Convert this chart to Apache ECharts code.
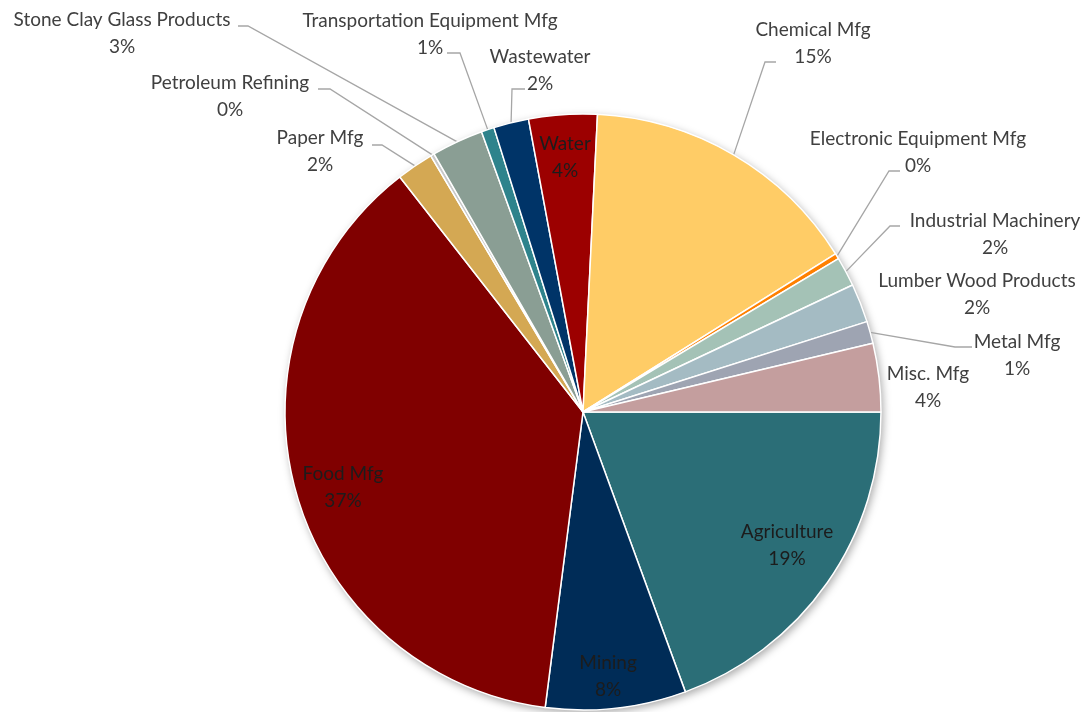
<!DOCTYPE html>
<html>
<head>
<meta charset="utf-8">
<script src="https://cdn.jsdelivr.net/npm/echarts@6/dist/echarts.min.js"></script>
<style>
  html, body { margin: 0; padding: 0; background: #fff; }
  #main { width: 1089px; height: 712px; }
</style>
</head>
<body>
<div id="main"></div>
<script>
// slices, clockwise from 3 o'clock
var categories = ['Agriculture', 'Mining', 'Food Mfg', 'Paper Mfg', 'Petroleum Refining',
    'Stone Clay Glass Products', 'Transportation Equipment Mfg', 'Wastewater', 'Water',
    'Chemical Mfg', 'Electronic Equipment Mfg', 'Industrial Machinery', 'Lumber Wood Products',
    'Metal Mfg', 'Misc. Mfg'];
var shares = [19.4, 7.6, 37.4, 2.0, 0.2, 2.8, 0.7, 1.9, 3.7, 15.3, 0.3, 1.6, 2.1, 1.2, 3.7];

var colors = ['#2B6E77', '#002C57', '#800000', '#D4A853', '#C8C8C8', '#8A9E94', '#2E838C',
    '#003468', '#9C0000', '#FFCC66', '#FF8000', '#A4C2B6', '#A4BBC3', '#9EA4B2', '#C49E9E'];

// label placement (center of text block), leader end & bend x
var labelSpots = [
    { c: [787, 545], inside: true },
    { c: [608, 676], inside: true },
    { c: [343, 487], inside: true },
    { c: [320, 151], end: [372, 145], bend: 382 },
    { c: [230, 96], end: [318, 89], bend: 330 },
    { c: [122, 33], end: [238, 26], bend: 248 },
    { c: [430, 34], end: [447, 53], bend: 460 },
    { c: [540, 70], end: [525, 89], bend: 512 },
    { c: [565, 157], inside: true },
    { c: [813, 43], end: [776, 62], bend: 765 },
    { c: [918, 152], end: [900, 171], bend: 889 },
    { c: [995, 234], end: [900, 226], bend: 890 },
    { c: [977, 294], noLine: true },
    { c: [1017, 355], end: [972, 347], bend: 955 },
    { c: [928, 387], noLine: true }
];

var pieData = [];
for (var i = 0; i < categories.length; i++) {
    var spot = labelSpots[i];
    var item = {
        name: categories[i],
        value: shares[i],
        itemStyle: { color: colors[i] }
    };
    if (spot.inside) {
        item.label = { position: 'inside', color: '#1c1c1c' };
        item.labelLine = { show: false };
    } else if (spot.noLine) {
        item.labelLine = { show: false };
    }
    pieData.push(item);
}

var myChart = echarts.init(document.getElementById('main'));

var option = {
    backgroundColor: '#ffffff',
    animation: false,
    series: [
        {
            // soft shadow behind the pie
            type: 'pie',
            silent: true,
            center: [583, 412],
            radius: 298,
            label: { show: false },
            labelLine: { show: false },
            itemStyle: {
                color: '#ffffff',
                shadowBlur: 8,
                shadowOffsetX: 2,
                shadowOffsetY: 3,
                shadowColor: 'rgba(0,0,0,0.35)'
            },
            data: [1],
            z: 1
        },
        {
            type: 'pie',
            center: [583, 412],
            radius: 298,
            startAngle: 0,
            clockwise: true,
            avoidLabelOverlap: false,
            itemStyle: {
                borderColor: '#ffffff',
                borderWidth: 1.5
            },
            label: {
                show: true,
                position: 'outside',
                fontFamily: 'Lato',
                fontSize: 19,
                lineHeight: 27,
                color: '#404040',
                align: 'center',
                formatter: function (p) {
                    return p.name + '\n' + Math.round(p.percent) + '%';
                }
            },
            labelLine: {
                show: true,
                length: 20,
                length2: 10,
                smooth: false,
                lineStyle: { color: '#A6A6A6', width: 1.3 }
            },
            labelLayout: function (params) {
                var spot = labelSpots[params.dataIndex];
                var res = {
                    x: spot.c[0],
                    y: spot.c[1],
                    align: 'center',
                    verticalAlign: 'middle'
                };
                if (spot.end && params.labelLinePoints) {
                    var start = params.labelLinePoints[0];
                    res.labelLinePoints = [start, [spot.bend, spot.end[1]], spot.end];
                }
                return res;
            },
            data: pieData,
            z: 2
        }
    ]
};

myChart.setOption(option);
</script>
</body>
</html>
